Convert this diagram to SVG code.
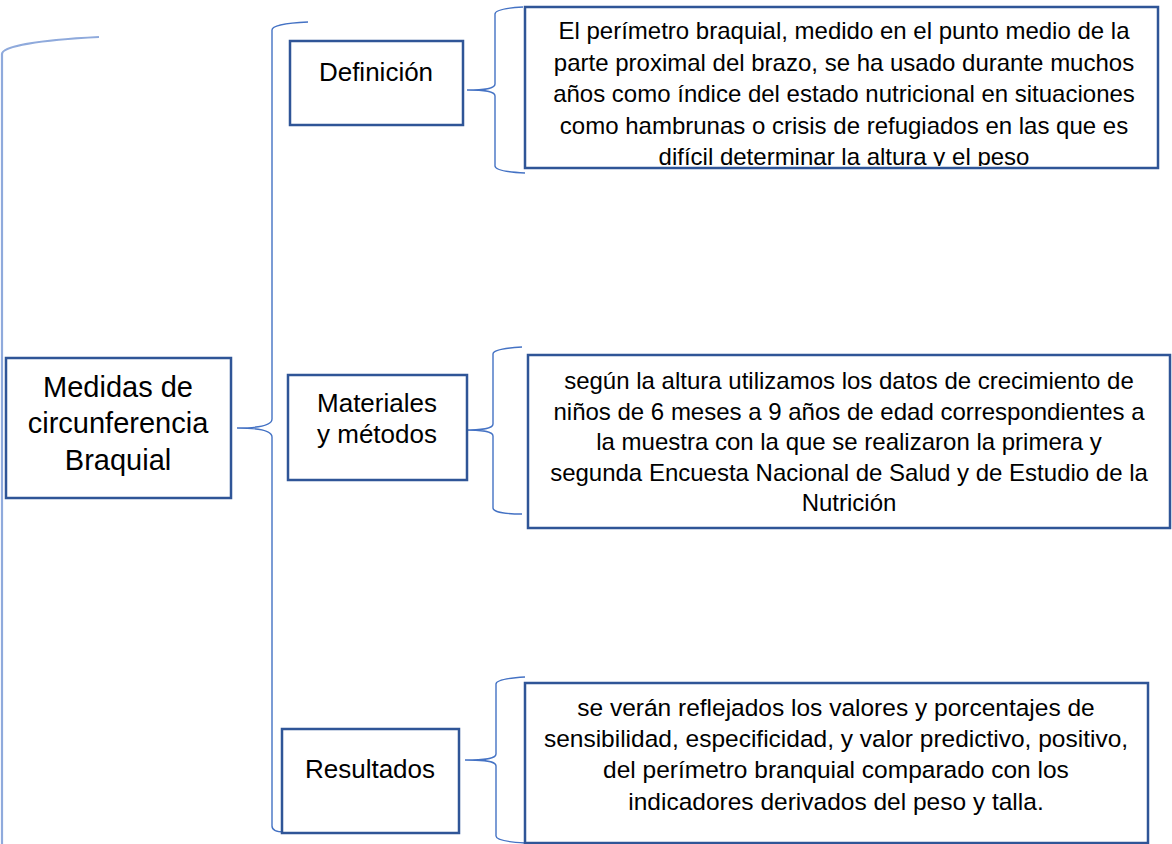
<svg xmlns="http://www.w3.org/2000/svg" width="1172" height="844" viewBox="0 0 1172 844">
<style>
.box{fill:#fff;stroke:#2f5597;stroke-width:2.5}
.br{fill:none;stroke:#4472c4;stroke-width:1.4}
.brl{fill:none;stroke:#8faadc;stroke-width:2.2}
text{font-family:"Liberation Sans",Arial,sans-serif;fill:#000;text-anchor:middle}
.t29{font-size:29px}
.t26{font-size:26px}
.t24{font-size:24px}
.t245{font-size:24.5px}
</style>
<defs>
<clipPath id="defclip"><rect x="527" y="9" width="629" height="157"/></clipPath>
</defs>
<rect width="1172" height="844" fill="#fff"/>
<g id="connectors">
<path class="brl" d="M99,37 C40,40 2,46 2,54 L2,846"/>
<path class="br" d="M308,22 C288,23 272,25 272,30 L272,419 C272,425 262,428 237,428 C262,428 272,431 272,437 L272,826 C272,830 276,832 284,832"/>
<path class="br" d="M523,7 C505,8 495,10 495,14 L495,84 C495,88 488,90 467,90 C488,90 495,92 495,96 L495,166 C495,170 505,172 525,173"/>
<path class="br" d="M522,347 C505,348 493,350 493,354 L493,424 C493,428 486,430 463,430 C486,430 493,432 493,436 L493,508 C493,512 505,514 522,514"/>
<path class="br" d="M525,677 C508,678 496,680 496,684 L496,754 C496,758 489,760 465,760 C489,760 496,762 496,766 L496,836 C496,840 508,842 525,843"/>
</g>
<g id="main">
<rect class="box" x="6" y="358" width="225" height="140"/>
<text class="t29" x="118" y="397">Medidas de</text>
<text class="t29" x="118" y="433">circunferencia</text>
<text class="t29" x="118" y="470">Braquial</text>
</g>
<g id="definicion">
<rect class="box" x="290" y="41" width="173" height="84"/>
<text class="t26" x="376" y="81">Definición</text>
</g>
<g id="materiales">
<rect class="box" x="288" y="375" width="179" height="105"/>
<text class="t26" x="377" y="412">Materiales</text>
<text class="t26" x="377" y="443">y métodos</text>
</g>
<g id="resultados">
<rect class="box" x="282" y="729" width="177" height="104"/>
<text class="t26" x="370" y="778">Resultados</text>
</g>
<g id="definicion-texto">
<rect class="box" x="525" y="7" width="633" height="161"/>
<g clip-path="url(#defclip)">
<text class="t24" x="844" y="39">El perímetro braquial, medido en el punto medio de la</text>
<text class="t24" x="844" y="70.5">parte proximal del brazo, se ha usado durante muchos</text>
<text class="t24" x="844" y="102">años como índice del estado nutricional en situaciones</text>
<text class="t24" x="844" y="133.5">como hambrunas o crisis de refugiados en las que es</text>
<text class="t24" x="844" y="165">difícil determinar la altura y el peso</text>
</g>
</g>
<g id="materiales-texto">
<rect class="box" x="528" y="355" width="642" height="173"/>
<text class="t24" x="849" y="389">según la altura utilizamos los datos de crecimiento de</text>
<text class="t24" x="849" y="419.5">niños de 6 meses a 9 años de edad correspondientes a</text>
<text class="t24" x="849" y="450">la muestra con la que se realizaron la primera y</text>
<text class="t24" x="849" y="480.5">segunda Encuesta Nacional de Salud y de Estudio de la</text>
<text class="t24" x="849" y="511">Nutrición</text>
</g>
<g id="resultados-texto">
<rect class="box" x="525" y="683" width="623" height="160"/>
<text class="t245" x="836" y="716">se verán reflejados los valores y porcentajes de</text>
<text class="t245" x="836" y="747">sensibilidad, especificidad, y valor predictivo, positivo,</text>
<text class="t245" x="836" y="778">del perímetro branquial comparado con los</text>
<text class="t245" x="836" y="810">indicadores derivados del peso y talla.</text>
</g>
</svg>
